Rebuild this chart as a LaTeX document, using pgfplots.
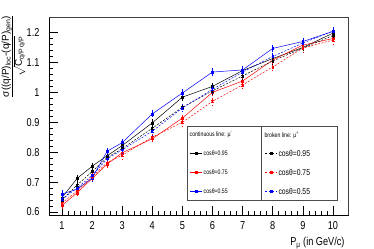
\documentclass[border=0pt]{standalone}
\usepackage{fontspec}
\setmainfont{Liberation Sans}[FakeStretch=0.8]
\newfontfamily\labelfont{Liberation Sans}
\usepackage{pgfplots}
\pgfplotsset{compat=1.18}

\pgfplotstableread{
x     bs     rs     ls     bd     rd     ld
1     0.648  0.622  0.660  0.640  0.630  0.643
1.5   0.712  0.664  0.676  0.690  0.670  0.680
2     0.753  0.712  0.713  0.735  0.718  0.722
2.5   0.788  0.760  0.803  0.782  0.765  0.778
3     0.822  0.798  0.832  0.812  0.790  0.808
4     0.898  0.845  0.928  0.880  0.850  0.870
5     0.984  0.914  0.998  0.950  0.900  0.948
6     1.020  1.000  1.068  1.005  0.970  1.010
7     1.073  1.038  1.075  1.055  1.025  1.068
8     1.113  1.108  1.147  1.105  1.085  1.120
9     1.150  1.158  1.170  1.148  1.148  1.165
10    1.198  1.180  1.204  1.190  1.175  1.205
}\data

\pgfplotsset{
 common/.style={
  scale only axis, width=299bp, height=198bp,
  xmin=0.57, xmax=10.5, ymin=0.59, ymax=1.252,
  clip=false,
  legend cell align=left,
  legend image code/.code={\draw[mark repeat=2,mark phase=2,##1] plot coordinates {(0bp,0bp) (6bp,0bp) (12bp,0bp)};},
 },
 ser/.style={line width=0.5pt, mark=square*, mark size=0.9bp,
   error bars/y dir=both, error bars/y fixed=0.012, error bars/error mark=none,
   error bars/error bar style={line width=0.5pt}},
}

\begin{document}
\begin{tikzpicture}
\useasboundingbox (-49bp,-34bp) rectangle (325bp,215bp);
\begin{axis}[common,
  axis line style={line width=0.8pt},
  tick align=inside, tick pos=left,
  xtick={1,2,3,4,5,6,7,8,9,10},
  ytick={0.6,0.7,0.8,0.9,1.0,1.1,1.2},
  minor x tick num=4, minor y tick num=4,
  major tick length=9bp, minor tick length=4.5bp,
  tick style={black, line width=0.5pt},
  ticklabel style={font=\fontsize{11.5}{12}\selectfont},
  /pgf/number format/assume math mode=true,
  yticklabel style={xshift=-6bp},
  xticklabel style={yshift=-3bp},
  xlabel={P\textsubscript{μ} (in GeV/c)},
  xlabel style={at={(rel axis cs:1,0)}, anchor=north east, yshift=-19bp, font=\fontsize{11.5}{12}\selectfont},
  ylabel={$\frac{\mbox{σ((q/P)\textsubscript{loc}-(q/P)\textsubscript{gen})}}{\sqrt{\mbox{C\textsubscript{q/P q/P}}}}$},
  ylabel style={at={([xshift=-20bp]rel axis cs:0,0.80)}, anchor=south, font=\labelfont\fontsize{10}{11}\selectfont},
  legend style={at={(axis description cs:0.4716,0.43)}, anchor=north west, draw=none, fill=none,
    inner sep=0pt, font=\fontsize{6.5}{7}\selectfont,
    nodes={inner sep=1bp, text height=5bp, text depth=1bp}, row sep=11bp},
]
\draw[gray!60!black, line width=0.8pt, fill=white] (rel axis cs:0.4615,0.0758) rectangle (rel axis cs:0.712,0.4495);
\draw[gray!60!black, line width=0.8pt, fill=white] (rel axis cs:0.712,0.0758) rectangle (rel axis cs:0.9632,0.4495);
\draw[gray!50!black, line width=0.8pt] (rel axis cs:0,1) -- (rel axis cs:1,1) -- (rel axis cs:1,0);
\addlegendimage{empty legend}
\addlegendentry{\hspace*{-14bp}continuous line: μ\textsuperscript{-}}
\addplot[ser, black] table[x=x, y=bs] {\data};
\addlegendentry{cosθ=0.95}
\addplot[ser, red] table[x=x, y=rs] {\data};
\addlegendentry{cosθ=0.75}
\addplot[ser, blue] table[x=x, y=ls] {\data};
\addlegendentry{cosθ=0.55}
\end{axis}
\begin{axis}[common, hide axis,
  legend style={at={(axis description cs:0.722,0.43)}, anchor=north west, draw=none, fill=none,
    inner sep=0pt, font=\fontsize{8.5}{9}\selectfont,
    nodes={inner sep=1bp, text height=6bp, text depth=1bp}, row sep=10bp},
]
\addlegendimage{empty legend}
\addlegendentry{\hspace*{-14bp}{\fontsize{6.5}{7}\selectfont broken line: μ\textsuperscript{+}}}
\addplot[ser, black, dash pattern=on 2pt off 1.5pt] table[x=x, y=bd] {\data};
\addlegendentry{cosθ=0.95}
\addplot[ser, red, dash pattern=on 2pt off 1.5pt] table[x=x, y=rd] {\data};
\addlegendentry{cosθ=0.75}
\addplot[ser, blue, dash pattern=on 2pt off 1.5pt] table[x=x, y=ld] {\data};
\addlegendentry{cosθ=0.55}
\end{axis}
\end{tikzpicture}
\end{document}
